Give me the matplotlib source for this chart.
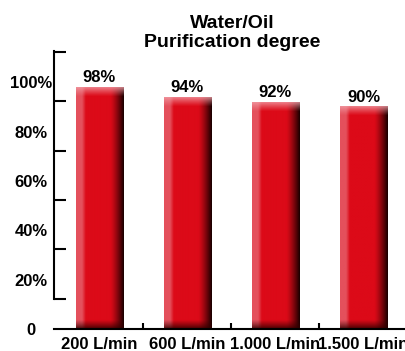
import numpy as np
import matplotlib
matplotlib.use("Agg")
import matplotlib.pyplot as plt
from matplotlib.colors import to_rgb

# data
categories = ["200 L/min", "600 L/min", "1.000 L/min", "1.500 L/min"]
values = [98, 94, 92, 90]
ytick_values = [0, 20, 40, 60, 80, 100]
ytick_labels = ["0", "20%", "40%", "60%", "80%", "100%"]
title_lines = ["Water/Oil", "Purification degree"]

plt.rcParams['font.family'] = ['Liberation Sans', 'DejaVu Sans']
plt.rcParams['font.weight'] = 'bold'

W, H, DPI = 406, 351, 100
fig = plt.figure(figsize=(W / DPI, H / DPI), dpi=DPI)
ax = fig.add_axes([54 / W, 22 / H, 352 / W, 278 / H])

x = np.arange(len(categories))
bar_w = 0.535

base = np.array(to_rgb('#dc0a18'))
light = np.array(to_rgb('#e4505c'))
dark = np.array(to_rgb('#1e0000'))
top_col = np.array(to_rgb('#f2a2aa'))
bot_col = np.array(to_rgb('#300000'))


def bar_image(height_px, width_px=47):
	# horizontal shading profile
	u = np.linspace(0, 1, width_px)
	row = np.empty((width_px, 3))
	for i, t in enumerate(u):
		if t < 0.12:
			c = light
		elif t < 0.2:
			k = (t - 0.12) / 0.08
			c = light * (1 - k) + base * k
		elif t < 0.72:
			c = base
		else:
			k = ((t - 0.72) / 0.28) ** 1.3
			c = base * (1 - k) + dark * k
		row[i] = c
	img = np.repeat(row[None, :, :], height_px, axis=0)
	# vertical shading: light band on top, dark band at bottom
	band = 9
	for j in range(min(band, height_px)):
		k = (1 - j / band) ** 1.2 * 0.75
		img[j] = img[j] * (1 - k) + top_col * k
	for j in range(min(band, height_px)):
		k = (1 - j / band) ** 1.2 * 0.85
		img[height_px - 1 - j] = img[height_px - 1 - j] * (1 - k) + bot_col * k
	return np.clip(img, 0, 1)


px_per_unit = 278 / 112.7
bars = ax.bar(x, values, width=bar_w, color='#dc0a18', zorder=2)
for b, v in zip(bars, values):
	hpx = int(round(v * px_per_unit))
	ax.imshow(bar_image(hpx), extent=(b.get_x(), b.get_x() + b.get_width(), 0, v),
			  aspect='auto', interpolation='bilinear', zorder=3)
	ax.text(b.get_x() + b.get_width() / 2, v + 0.8, f"{v}%", ha='center', va='bottom',
			fontsize=12, fontweight='bold', zorder=4)

ax.set_xlim(-0.517, 3.483)
ax.set_ylim(0, 112.7)

# spines
for s in ['top', 'right']:
	ax.spines[s].set_visible(False)
ax.spines['left'].set_linewidth(1.5)
ax.spines['bottom'].set_linewidth(1.5)
ax.spines['left'].set_bounds(12.3, 112.7)
ax.spines['bottom'].set_zorder(5)

# y ticks: labels on majors, bracket ticks on minors
ax.set_yticks(ytick_values, ytick_labels)
ax.set_yticks(np.arange(12.3, 113, 20), minor=True)
ax.tick_params(axis='y', which='major', length=0, pad=16.5, labelsize=12)
ax.tick_params(axis='y', which='minor', direction='in', length=8.6, width=1.5)
for lbl in ax.get_yticklabels():
	lbl.set_horizontalalignment('center')
	lbl.set_fontweight('bold')

# x ticks
ax.set_xticks(x, categories)
ax.set_xticks([0.5, 1.5, 2.5], minor=True)
ax.tick_params(axis='x', which='major', length=0, pad=6, labelsize=12)
ax.tick_params(axis='x', which='minor', direction='in', length=4.5, width=1.5)
for lbl in ax.get_xticklabels():
	lbl.set_fontweight('bold')

fig.text(232 / W, 1 - 33 / H, "\n".join(title_lines), ha='center', va='center',
		 fontsize=14, fontweight='bold', linespacing=1.1)

fig.savefig("out.png", dpi=DPI)
